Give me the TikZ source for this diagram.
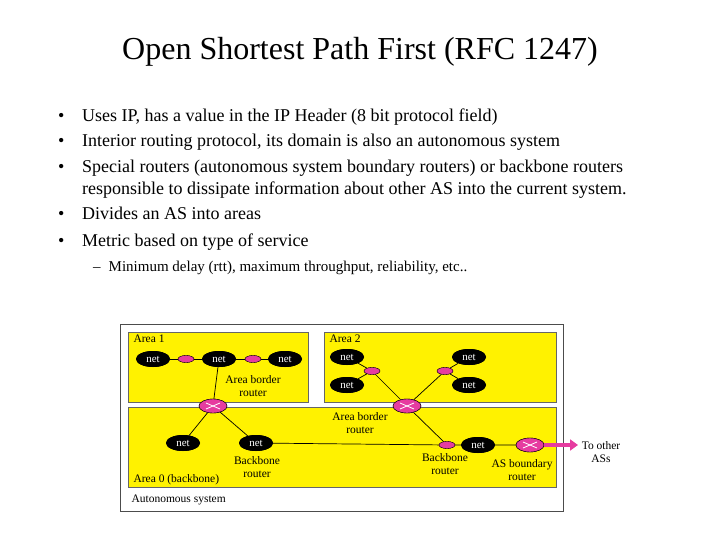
\documentclass[tikz,border=0pt]{standalone}
\usepackage{fontspec}
\setmainfont{Liberation Serif}
\usetikzlibrary{shapes.geometric,arrows.meta}
\definecolor{rpink}{RGB}{230,60,160}
\begin{document}
\begin{tikzpicture}[x=1pt,y=-1pt,
 netn/.style={ellipse,fill=black,text=white,inner sep=0pt,minimum width=34pt,minimum height=16pt,font=\fontsize{11}{11}\selectfont},
 bigr/.style={ellipse,fill=rpink,draw=black,line width=0.4pt,minimum width=28pt,minimum height=14pt,inner sep=0pt},
 smr/.style={ellipse,fill=rpink,draw=black,line width=0.3pt,minimum width=16pt,minimum height=7pt,inner sep=0pt},
 lab/.style={font=\fontsize{11.5}{13}\selectfont,align=center},
 area/.style={fill=yellow,draw=black!60,line width=0.6pt},
 ln/.style={draw=black,line width=0.7pt},
 bul/.style={anchor=base west,inner sep=0pt,font=\fontsize{18}{20}\selectfont}]
\useasboundingbox (0,0) rectangle (720,540);
\node at (360,52) {\fontsize{32}{34}\selectfont Open Shortest Path First (RFC 1247)};
\foreach \y in {122,147,173,220,246} \node[bul] at (58,\y) {•};
\node[bul] (b1) at (82,122) {Uses IP, has a value in the IP Header (8 bit protocol field)};
\node[bul] (b2) at (82,147) {Interior routing protocol, its domain is also an autonomous system};
\node[bul] (b3) at (82,173) {Special routers (autonomous system boundary routers) or backbone routers};
\node[bul] (b3b) at (82,195) {responsible to dissipate information about other AS into the current system.};
\node[bul] (b4) at (82,220) {Divides an AS into areas};
\node[bul] (b5) at (82,246) {Metric based on type of service};
\node[anchor=base west,inner sep=0pt,font=\fontsize{15}{16}\selectfont] (s1) at (93,271) {–\hspace{8pt}Minimum delay (rtt), maximum throughput, reliability, etc..};
% diagram
\draw[fill=white,draw=black!70,line width=1pt] (120,324) rectangle (563,511);
\draw[area] (128,332) rectangle (308,402);
\draw[area] (324,332) rectangle (556,402);
\draw[area] (128,407) rectangle (556,487);
\node[anchor=west,lab] at (130,339) {Area 1};
\node[anchor=west,lab] at (326,339) {Area 2};
\node[anchor=west,lab] at (130,480) {Area 0 (backbone)};
\node[anchor=west,lab] at (128,500) {Autonomous system};
% nodes
\node[netn] (n1) at (153,359) {net};
\node[smr] (r1) at (186,359) {};
\node[netn] (n2) at (219,359) {net};
\node[smr] (r2) at (253,359) {};
\node[netn] (n3) at (285,359) {net};
\node[bigr] (B1) at (213,406) {};
\node[netn] (n4) at (183,443) {net};
\node[netn] (n5) at (256,443) {net};
\node[netn] (m1) at (347,357) {net};
\node[netn] (m2) at (347,385) {net};
\node[smr] (q1) at (372,371) {};
\node[netn] (m3) at (469,357) {net};
\node[netn] (m4) at (469,385) {net};
\node[smr] (q2) at (445,371) {};
\node[bigr] (B2) at (407,406) {};
\node[smr] (bb) at (447,445) {};
\node[netn] (n6) at (478,445) {net};
\node[bigr] (AS) at (530,445) {};
\coordinate (to) at (578,445);
% lines
\path[ln] (n1)--(r1)--(n2)--(r2)--(n3);
\path[ln] (n2)--(B1) (B1)--(n4) (B1)--(n5);
\path[ln] (n5)--(bb)--(n6)--(AS);
\path[ln] (m1)--(q1)--(m2) (m3)--(q2)--(m4) (q1)--(B2)--(q2) (B2)--(bb);
% redraw nodes on top
\foreach \p in {{153,359},{219,359},{285,359},{183,443},{256,443},{347,357},{347,385},{469,357},{469,385},{478,445}}
  \node[netn] at (\p) {net};
\foreach \p in {{186,359},{253,359},{372,371},{445,371},{447,445}} \node[smr] at (\p) {};
\foreach \p in {{213,406},{407,406},{530,445}} {
  \node[bigr] (x) at (\p) {};
  \draw[white,line width=0.8pt] ([xshift=-7pt,yshift=-3pt]x.center)--([xshift=7pt,yshift=3pt]x.center) ([xshift=-7pt,yshift=3pt]x.center)--([xshift=7pt,yshift=-3pt]x.center);
}
\draw[-{Triangle[length=8pt,width=11pt]},line width=4pt,rpink] (AS.east)--(to);
\node[lab] at (253,386) {Area border\\router};
\node[lab] at (360,423) {Area border\\router};
\node[lab] at (257,467) {Backbone\\router};
\node[lab] at (445,464) {Backbone\\router};
\node[lab] at (522,470) {AS boundary\\router};
\node[lab] at (601,452) {To other\\ASs};
\end{tikzpicture}
\end{document}
